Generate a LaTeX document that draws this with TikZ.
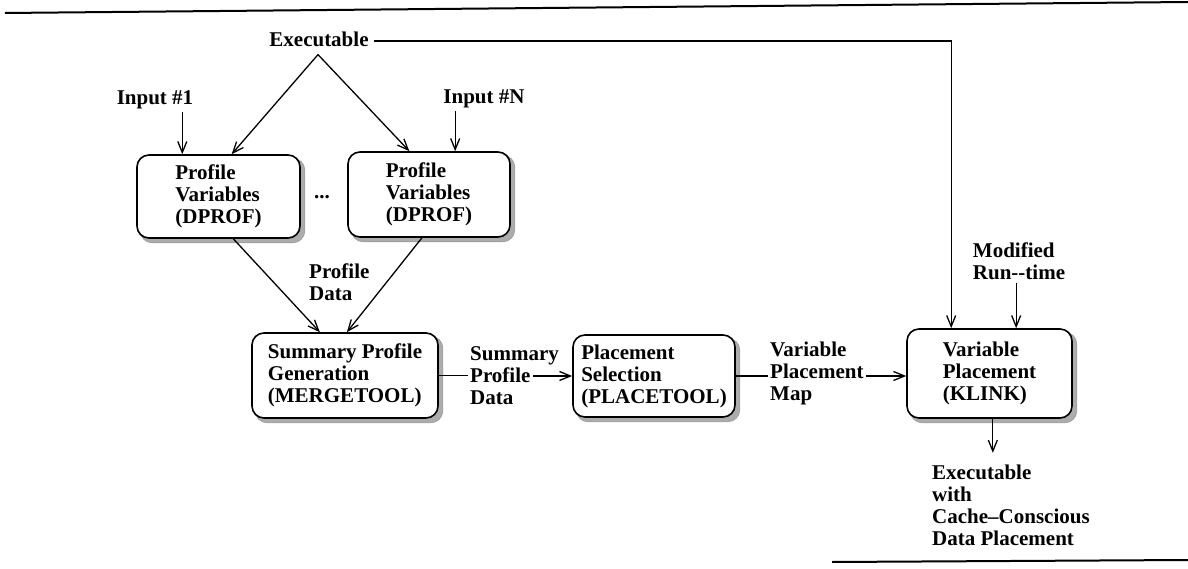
\documentclass[tikz,border=0pt]{standalone}
\usepackage{fontspec}
\setmainfont{Liberation Serif}
\usetikzlibrary{arrows.meta,calc,backgrounds}
\begin{document}
\begin{tikzpicture}[x=1pt,y=-1pt,
  every node/.style={font=\fontsize{21}{22}\selectfont\bfseries},
  lbl/.style={inner sep=0pt, align=left},
  box/.style={draw, line width=1.6pt, rounded corners=12pt, fill=white, align=left, inner sep=0pt},
  shade/.style={fill=gray!65, draw=gray!80, line width=0.6pt, rounded corners=12pt},
  arr/.style={line width=1.3pt, -{Straight Barb[length=11pt,width=9pt,line width=1.3pt]}},
  ln/.style={line width=1.3pt},
  rule/.style={line width=2pt}]
\useasboundingbox (0,0) rectangle (1188,569);
% rules
\draw[rule] (5,13) -- (1188,2);
\draw[rule] (832,562) -- (1188,560);
% boxes
\node[box, minimum width=163pt, minimum height=83pt] (P1) at (218.5,196.5) {Profile\\Variables\\(DPROF)};
\node[box, minimum width=162pt, minimum height=85pt] (PN) at (429,194.5) {Profile\\Variables\\(DPROF)};
\node[box, minimum width=186pt, minimum height=85pt] (M) at (345,375.5) {Summary Profile\\Generation\\(MERGETOOL)};
\node[box, minimum width=162pt, minimum height=82pt] (PL) at (654,376) {Placement\\Selection\\(PLACETOOL)};
\node[box, minimum width=165pt, minimum height=89pt] (K) at (989.5,373.5) {Variable\\Placement\\(KLINK)};
% shadows
\begin{scope}[on background layer]
\foreach \b in {P1,PN,M,PL,K}
  \path[shade] ($(\b.south west)+(4,4)$) rectangle ($(\b.north east)+(4,4)$);
\end{scope}
% labels
\node[lbl] (E) at (319,39) {Executable};
\node[lbl] (I1) at (155,100) {Input \#1};
\node[lbl] (IN) at (484,99) {Input \#N};
\node[lbl] (dots) at (322,197) {...};
\node[lbl, anchor=west] (PD) at (309,282) {Profile\\Data};
\node[lbl, anchor=west] (SPD) at (470,376) {Summary\\Profile\\Data};
\node[lbl, anchor=west] (VPM) at (770,373) {Variable\\Placement\\Map};
\node[lbl] (MR) at (1019,261) {Modified\\Run-{}-time};
\node[lbl, anchor=west] (OUT) at (932,505) {Executable\\with\\Cache–Conscious\\Data Placement};
% anchor points
\coordinate (ex) at ($(E.south)+(-1,8)$);
\coordinate (p1t) at ($(P1.north west)!0.58!(P1.north east)$);
\coordinate (pnt) at ($(PN.north west)!0.38!(PN.north east)$);
\coordinate (a1) at ($(P1.north west)!0.28!(P1.north east)$);
\coordinate (an) at ($(PN.north west)!0.66!(PN.north east)$);
\coordinate (p1b) at ($(P1.south west)!0.59!(P1.south east)$);
\coordinate (pnb) at ($(PN.south west)!0.457!(PN.south east)$);
\coordinate (m1) at ($(M.north west)!0.366!(M.north east)$);
\coordinate (m2) at ($(M.north west)!0.51!(M.north east)$);
\coordinate (kt) at ($(K.north west)!0.27!(K.north east)$);
\coordinate (km) at ($(K.north west)!0.66!(K.north east)$);
\coordinate (kb) at ($(K.south west)!0.52!(K.south east)$);
\coordinate (spde) at ($(SPD.west)+(63,0)$);
\coordinate (vpme) at ($(VPM.west)+(96,3)$);
% connectors
\draw[arr] (ex) -- (p1t);
\draw[arr] (ex) -- (pnt);
\draw[arr] ([xshift=5pt,yshift=-2pt]E.east) -- ([yshift=-2pt]E.east -| kt) -- (kt);
\draw[arr] ([yshift=-3pt]I1.south -| a1) -- (a1);
\draw[arr] ([yshift=-3pt]IN.south -| an) -- (an);
\draw[arr] (p1b) -- (m1);
\draw[arr] (pnb) -- (m2);
\draw[ln] (M.east) -- ([xshift=-2pt]SPD.west |- M.east);
\draw[arr] (spde) -- (PL.west |- spde);
\draw[ln] (PL.east) -- ([xshift=-2pt]VPM.west |- PL.east);
\draw[arr] (vpme) -- (K.west |- vpme);
\draw[arr] ([yshift=-3pt]MR.south -| km) -- (km);
\draw[arr] (kb) -- ($(kb)+(0,34)$);
\end{tikzpicture}
\end{document}
